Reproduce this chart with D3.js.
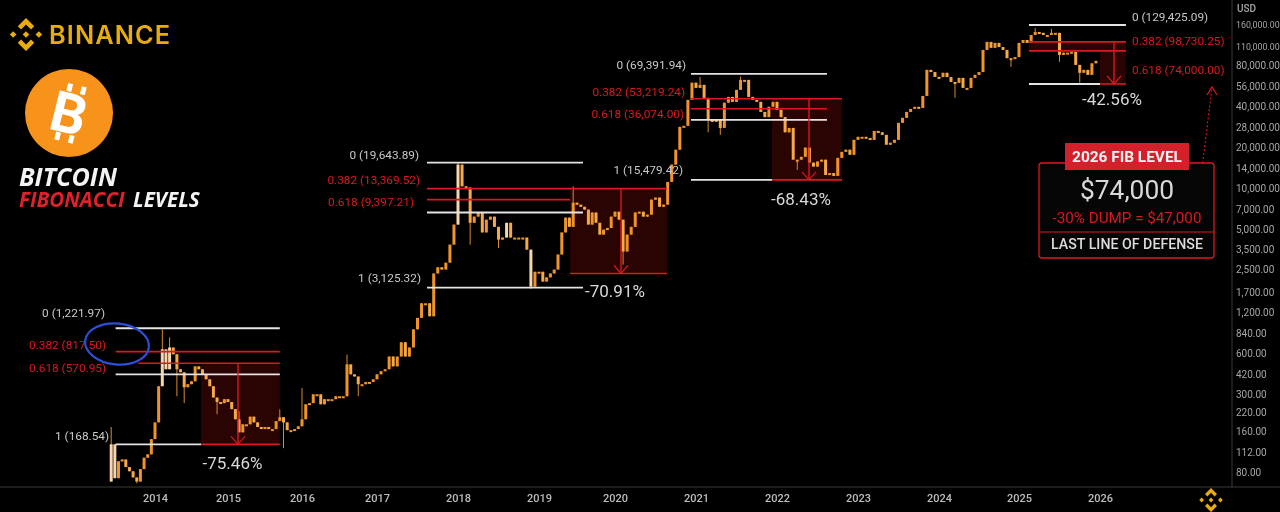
<!DOCTYPE html>
<html>
<head>
<meta charset="utf-8">
<script src="https://cdn.jsdelivr.net/npm/d3@7"></script>
<style>
    html, body { margin: 0; padding: 0; background: #000; overflow: hidden; }
    svg { display: block; font-family: Roboto, sans-serif; filter: blur(0.4px); }
</style>
</head>
<body>
<svg id="chart" width="1280" height="512"></svg>
<script>
const priceTicks = [160000, 110000, 80000, 56000, 40000, 28000, 20000, 14000, 10000, 7000, 5000, 3500, 2500, 1700, 1200, 840, 600, 420, 300, 220, 160, 112, 80];
const yearTicks = [2014, 2015, 2016, 2017, 2018, 2019, 2020, 2021, 2022, 2023, 2024, 2025, 2026];

// closes, 20 bars a year
const firstOpen = 68;
const closes2013 = [128, 72, 96, 99, 87, 81, 73, 68, 84, 102, 108, 140];
const closes2014 = [186, 344, 644, 459, 665, 592, 459, 436, 338, 356, 374, 482, 459, 421, 387, 344, 284, 263, 258, 276];
const closes2015 = [263, 233, 196, 157, 180, 180, 205, 186, 172, 166, 172, 166, 166, 190, 203, 186, 163, 163, 166, 174];
const closes2016 = [196, 253, 258, 300, 300, 253, 276, 276, 276, 290, 290, 290, 499, 421, 406, 356, 356, 370, 370, 387];
const closes2017 = [421, 444, 459, 570, 482, 570, 727, 570, 665, 905, 1100, 1410, 1410, 1130, 2340, 2600, 2500, 2810, 3820, 5370];
const closes2018 = [14900, 10300, 10100, 5540, 6150, 6600, 4700, 5840, 6150, 5170, 4160, 4310, 5540, 4310, 4310, 4310, 4310, 3510, 1870, 2410];
const closes2019 = [2410, 2040, 2190, 2340, 2500, 3230, 4700, 6050, 5170, 7800, 7540, 7270, 6930, 5370, 6600, 5540, 4530, 4930, 5070, 6150];
const closes2020 = [6690, 5840, 3400, 4530, 5170, 6600, 6690, 6150, 6360, 8210, 8500, 7270, 7540, 11100, 14900, 19200, 28300, 28800, 44800, 60000];
const closes2021 = [54900, 57800, 46400, 31900, 30800, 31900, 27800, 42700, 47100, 43300, 53100, 62900, 62900, 47100, 44800, 43300, 36500, 33400, 39800, 43300];
const closes2022 = [37800, 33400, 25800, 27800, 16200, 16200, 17000, 19900, 15400, 14400, 15700, 16200, 12500, 12900, 12300, 16700, 18500, 19200, 17600, 22700];
const closes2023 = [23900, 23900, 23400, 22700, 26400, 25800, 24700, 20900, 21600, 22700, 30300, 33000, 36500, 38400, 39800, 39100, 47900, 74600, 71900, 66200];
const closes2024 = [66000, 71000, 66000, 60800, 59800, 65100, 54900, 54900, 65100, 68500, 71900, 104700, 120000, 108500, 118000, 110000, 104700, 91000, 91000, 92700];
const closes2025 = [118000, 124000, 118000, 135000, 142000, 140000, 135000, 135000, 140000, 140000, 96200, 100000, 100000, 101500, 81200, 71000, 74600, 68500, 83400, 87000];

// the long wicks: [year, bar, price]
const wickHighs = [[2013, 0, 172], [2014, 2, 905], [2014, 4, 790], [2015, 3, 225], [2015, 14, 232], [2016, 0, 333], [2016, 12, 590], [2018, 0, 15500], [2019, 9, 10300], [2021, 1, 66000], [2021, 11, 66500], [2025, 4, 152000], [2025, 8, 150000]];
const wickLows = [[2013, 7, 66], [2014, 6, 290], [2014, 8, 258], [2014, 17, 214], [2015, 15, 120], [2016, 15, 290], [2018, 3, 3820], [2018, 10, 3600], [2018, 18, 1800], [2020, 2, 2720], [2021, 3, 25800], [2021, 6, 24700], [2022, 5, 13600], [2024, 4, 46400], [2024, 18, 78500], [2025, 10, 85500], [2025, 15, 60000]];
const paleBars = [[2013, 0], [2013, 1], [2014, 2], [2014, 3], [2014, 4], [2018, 0], [2018, 12], [2018, 18]];

// fib drawings: level prices as plotted on the axis, spans in years
const fibLevels1 = [921, 620, 508, 421, 128];
const fibSpan1 = [2013.46, 2015.70];
const fibBox1 = [2014.63, 2015.70];
const fibArrow1 = 2015.135;
const fibLevels2 = [15400, 9900, 8210, 6600, 1840];
const fibSpan2 = [2017.617, 2019.579];
const fibBox2 = [2019.408, 2020.642];
const fibBoxFloor2 = 2340;
const fibArrow2 = 2020.074;
const fibLevels3 = [69700, 45600, 38500, 31900, 11500];
const fibSpan3 = [2020.938, 2022.617];
const fibBox3 = [2021.938, 2022.802];
const fibArrow3 = 2022.395;
const fibLevels4 = [160000, 120000, 103000, 58700];
const fibSpan4 = [2025.123, 2026.32];
const fibBox4 = [2026, 2026.32];
const fibArrow4 = 2026.173;

const white = "#e4e4e4", red = "#dc1820", grey = "#c8c8c8", gold = "#e8ad0c";
const svg = d3.select("#chart");

const x = d3.scaleLinear()
    .domain(yearTicks)
    .range([155, 228, 302, 377, 458, 539, 615, 696, 777, 858, 939, 1019, 1100]);
const y = d3.scaleLog().domain([80, 160000]).range([472, 25]);

// build candles, open is the close before
const years = [
    [2013, closes2013], [2014, closes2014], [2015, closes2015], [2016, closes2016], [2017, closes2017],
    [2018, closes2018], [2019, closes2019], [2020, closes2020], [2021, closes2021], [2022, closes2022],
    [2023, closes2023], [2024, closes2024], [2025, closes2025]
];
const lookup = (list, year, i) => {
    const hit = list.find(d => d[0] === year && d[1] === i);
    return hit ? hit[2] : null;
};
const candles = [];
let prev = firstOpen;
years.forEach(([year, closes]) => {
    const start = year === 2013 ? 2014 - closes.length / 20 : year;
    closes.forEach((close, i) => {
        candles.push({
            t: start + i / 20,
            open: prev,
            close: close,
            high: lookup(wickHighs, year, i) || Math.max(prev, close),
            low: lookup(wickLows, year, i) || Math.min(prev, close),
            pale: paleBars.some(d => d[0] === year && d[1] === i)
        });
        prev = close;
    });
});

const plot = svg.append("g");

const drawBox = function (span, top, bottom) {
    plot.append("rect")
        .attr("x", x(span[0]))
        .attr("y", y(top))
        .attr("width", x(span[1]) - x(span[0]))
        .attr("height", y(bottom) - y(top))
        .attr("fill", "#2a0403");
};

const drawLine = function (g, from, to, price, color) {
    g.append("line")
        .attr("x1", x(from)).attr("x2", x(to))
        .attr("y1", y(price)).attr("y2", y(price))
        .attr("stroke", color)
        .attr("stroke-width", color === white ? 1.9 : 1.6);
};

const drawArrow = function (g, t, top, bottom) {
    const px = x(t), py = y(bottom);
    g.append("line")
        .attr("x1", px).attr("x2", px)
        .attr("y1", y(top)).attr("y2", py)
        .attr("stroke", red).attr("stroke-width", 1.4);
    g.append("path")
        .attr("d", `M${px - 7},${py - 8} L${px},${py} L${px + 7},${py - 8}`)
        .attr("fill", "none").attr("stroke", red).attr("stroke-width", 1.2);
};

// shaded boxes sit under the candles
drawBox(fibBox1, fibLevels1[2], fibLevels1[4]);
drawBox(fibBox2, fibLevels2[1], fibBoxFloor2);
drawBox(fibBox3, fibLevels3[1], fibLevels3[4]);
drawBox(fibBox4, fibLevels4[1], fibLevels4[3]);
plot.append("rect")
    .attr("x", x(fibSpan4[0]))
    .attr("y", y(fibLevels4[1]))
    .attr("width", x(fibBox4[0]) - x(fibSpan4[0]))
    .attr("height", y(fibLevels4[2]) - y(fibLevels4[1]))
    .attr("fill", "#2a0403");

plot.selectAll(".wick").data(candles).join("line")
    .attr("class", "wick")
    .attr("x1", d => x(d.t)).attr("x2", d => x(d.t))
    .attr("y1", d => y(d.high)).attr("y2", d => y(d.low))
    .attr("stroke", "#d98a2b")
    .attr("stroke-width", 1);

plot.selectAll(".body").data(candles).join("rect")
    .attr("class", "body")
    .attr("x", d => x(d.t) - 1.5)
    .attr("width", 3)
    .attr("y", d => y(Math.max(d.open, d.close)))
    .attr("height", d => Math.max(2, Math.abs(y(d.open) - y(d.close))))
    .attr("fill", d => d.pale ? "#f6d6aa" : (d.close >= d.open ? "#f0942a" : "#f6a946"));

// fib lines over the candles
const lines = svg.append("g");
drawLine(lines, fibSpan1[0], fibSpan1[1], fibLevels1[0], white);
drawLine(lines, fibSpan1[0], fibSpan1[1], fibLevels1[1], red);
drawLine(lines, 2013.77, fibSpan1[1], fibLevels1[2], red);
drawLine(lines, fibSpan1[0], fibSpan1[1], fibLevels1[3], white);
drawLine(lines, fibSpan1[0], fibBox1[0], fibLevels1[4], white);
drawLine(lines, fibBox1[0], fibBox1[1], fibLevels1[4], red);
drawArrow(lines, fibArrow1, fibLevels1[2], fibLevels1[4]);

drawLine(lines, fibSpan2[0], fibSpan2[1], fibLevels2[0], white);
drawLine(lines, fibSpan2[0], fibBox2[1], fibLevels2[1], red);
drawLine(lines, fibSpan2[0], fibBox2[0], fibLevels2[2], red);
drawLine(lines, fibSpan2[0], fibSpan2[1], fibLevels2[3], white);
drawLine(lines, fibSpan2[0], fibSpan2[1], fibLevels2[4], white);
drawLine(lines, fibBox2[0], fibBox2[1], fibBoxFloor2, red);
drawArrow(lines, fibArrow2, fibLevels2[1], fibBoxFloor2);

drawLine(lines, fibSpan3[0], fibSpan3[1], fibLevels3[0], white);
drawLine(lines, fibSpan3[0], fibBox3[1], fibLevels3[1], red);
drawLine(lines, fibSpan3[0], fibSpan3[1], fibLevels3[2], red);
drawLine(lines, fibSpan3[0], fibSpan3[1], fibLevels3[3], white);
drawLine(lines, fibSpan3[0], fibBox3[0], fibLevels3[4], white);
drawLine(lines, fibBox3[0], fibBox3[1], fibLevels3[4], red);
drawArrow(lines, fibArrow3, fibLevels3[1], fibLevels3[4]);

drawLine(lines, fibSpan4[0], fibSpan4[1], fibLevels4[0], white);
drawLine(lines, fibSpan4[0], fibSpan4[1], fibLevels4[1], red);
drawLine(lines, fibSpan4[0], fibSpan4[1], fibLevels4[2], red);
drawLine(lines, fibSpan4[0], fibBox4[0], fibLevels4[3], white);
drawLine(lines, fibBox4[0], fibBox4[1], fibLevels4[3], red);
drawArrow(lines, fibArrow4, fibLevels4[1], fibLevels4[3]);

// axes
const yAxis = svg.append("g")
    .attr("transform", "translate(1232,0)")
    .call(d3.axisRight(y).tickValues(priceTicks).tickFormat(d3.format(",.2f")).tickSize(0).tickPadding(4));
yAxis.select(".domain").remove();
yAxis.selectAll("text")
    .attr("fill", "#a6a6a6")
    .attr("font-size", d => d >= 100000 ? 8.8 : 10)
    .attr("font-family", "Roboto");

const xAxis = svg.append("g")
    .attr("transform", "translate(0,487)")
    .call(d3.axisBottom(x).tickValues(yearTicks).tickFormat(d3.format("d")).tickSize(0).tickPadding(7));
xAxis.select(".domain").remove();
xAxis.selectAll("text").attr("fill", "#bdbdbd").attr("font-size", 11).attr("font-weight", 500).attr("font-family", "Roboto");

svg.append("line").attr("x1", 1232).attr("x2", 1232).attr("y1", 0).attr("y2", 487).attr("stroke", "#3a3a3a");
svg.append("line").attr("x1", 0).attr("x2", 1280).attr("y1", 487).attr("y2", 487).attr("stroke", "#3a3a3a");

const label = function (px, py, text, color, size, anchor, weight) {
    return svg.append("text")
        .attr("x", px).attr("y", py)
        .attr("dy", "0.35em")
        .attr("text-anchor", anchor || "end")
        .attr("fill", color)
        .attr("font-size", size)
        .attr("font-weight", weight || 400)
        .text(text);
};

label(1237, 8, "USD", "#a6a6a6", 10, "start", 500);

label(105, 313, "0 (1,221.97)", grey, 11.8);
label(106, 345, "0.382 (817.50)", red, 11.8);
label(106, 368, "0.618 (570.95)", red, 11.8);
label(109, 436, "1 (168.54)", grey, 11.8);
label(232.5, 463, "-75.46%", "#d8d8d8", 17, "middle");

label(419, 155, "0 (19,643.89)", grey, 11.8);
label(420, 180, "0.382 (13,369.52)", red, 11.8);
label(414, 202, "0.618 (9,397.21)", red, 11.8);
label(421, 278, "1 (3,125.32)", grey, 11.8);
label(615, 291, "-70.91%", "#d8d8d8", 17, "middle");

label(686, 65, "0 (69,391.94)", grey, 11.8);
label(685, 92, "0.382 (53,219.24)", red, 11.8);
label(684, 114, "0.618 (36,074.00)", red, 11.8);
label(683, 170, "1 (15,479.42)", grey, 11.8);
label(801, 199, "-68.43%", "#d8d8d8", 17, "middle");

label(1132, 17, "0 (129,425.09)", grey, 11.8, "start");
label(1132, 41, "0.382 (98,730.25)", red, 11.8, "start");
label(1132, 70, "0.618 (74,000.00)", red, 11.8, "start");
label(1112, 99, "-42.56%", "#d8d8d8", 17, "middle");

// circled note on the first drawing
svg.append("ellipse")
    .attr("transform", "translate(117,344) rotate(6)")
    .attr("rx", 32).attr("ry", 20.5)
    .attr("fill", "none").attr("stroke", "#2b50d8").attr("stroke-width", 2.2);

// 2026 callout
svg.append("line")
    .attr("x1", 1202.7).attr("y1", 163).attr("x2", 1211.6).attr("y2", 90)
    .attr("stroke", red).attr("stroke-width", 1.1).attr("stroke-dasharray", "2 2");
svg.append("path")
    .attr("d", "M1207,95 L1212,87 L1217,95")
    .attr("fill", "none").attr("stroke", red).attr("stroke-width", 1.2);
svg.append("rect")
    .attr("x", 1039).attr("y", 163).attr("width", 175).attr("height", 95).attr("rx", 3)
    .attr("fill", "#050505").attr("stroke", red).attr("stroke-width", 1.3);
svg.append("line").attr("x1", 1039).attr("x2", 1214).attr("y1", 232).attr("y2", 232).attr("stroke", red).attr("stroke-width", 1.2);
svg.append("rect").attr("x", 1065).attr("y", 143).attr("width", 124).attr("height", 27).attr("fill", "#d3202a");
label(1127, 157, "2026 FIB LEVEL", "#f4f4f4", 15.4, "middle", 700);
label(1127, 190, "$74,000", "#d8d8d8", 26.4, "middle", 400);
label(1127, 218, "-30% DUMP = $47,000", red, 15.2, "middle", 400);
label(1127, 244, "LAST LINE OF DEFENSE", "#dcdcdc", 14.2, "middle", 500);

// binance mark
const binanceMark = function (cx, cy, r, color) {
    const chevron = "M0,-1 L0.5,-0.5 L0.3,-0.3 L0,-0.6 L-0.3,-0.3 L-0.5,-0.5 Z";
    const diamond = "M0,-0.2 L0.2,0 L0,0.2 L-0.2,0 Z";
    const g = svg.append("g").attr("transform", `translate(${cx},${cy}) scale(${r})`).attr("fill", color);
    g.append("path").attr("d", chevron);
    g.append("path").attr("d", chevron).attr("transform", "rotate(180)");
    g.append("path").attr("d", diamond);
    g.append("path").attr("d", diamond).attr("transform", "translate(-0.78,0)");
    g.append("path").attr("d", diamond).attr("transform", "translate(0.78,0)");
};
binanceMark(26, 34.5, 16.5, gold);
binanceMark(1211, 500, 12, gold);
label(49, 35, "BINANCE", gold, 25.3, "start", 600)
    .attr("font-family", "Inter")
    .attr("letter-spacing", 1.1);

// bitcoin badge
svg.append("circle").attr("cx", 69).attr("cy", 113).attr("r", 44).attr("fill", "#f7931a");
const coin = svg.append("g").attr("transform", "translate(69,113) rotate(14)").attr("fill", "#fff");
coin.append("text")
    .attr("text-anchor", "middle").attr("dy", "0.36em")
    .attr("font-size", 56).attr("font-weight", 700).attr("font-family", "Roboto")
    .text("B");
[-8, 6].forEach(dx => {
    coin.append("rect").attr("x", dx).attr("y", -29).attr("width", 5).attr("height", 8);
    coin.append("rect").attr("x", dx).attr("y", 21).attr("width", 5).attr("height", 8);
});

const title = function (px, py, text, color, size) {
    return label(px, py, text, color, size, "start", 700)
        .attr("font-family", "Open Sans")
        .attr("font-style", "italic");
};
title(19, 177, "BITCOIN", "#f4f4f4", 25.2);
title(19, 200, "FIBONACCI", "#e0202a", 20.6);
title(133, 200, "LEVELS", "#f4f4f4", 20.6);
</script>
</body>
</html>
